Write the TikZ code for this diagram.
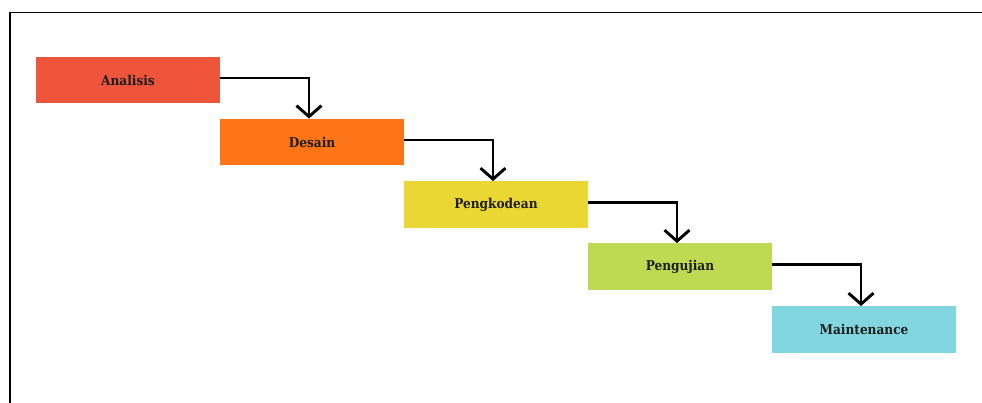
\documentclass[tikz,border=0pt]{standalone}
\usepackage{fontspec}
\setmainfont{DejaVu Serif Condensed}
\usetikzlibrary{arrows.meta}
\definecolor{cA}{HTML}{EE553B}
\definecolor{cD}{HTML}{FD7517}
\definecolor{cP}{HTML}{EBD734}
\definecolor{cU}{HTML}{BED952}
\definecolor{cM}{HTML}{82D6DF}
\definecolor{txt}{HTML}{1E1E1E}
\begin{document}
\begin{tikzpicture}[x=1pt,y=-1pt,
  stage/.style={minimum width=184pt, minimum height=46.5pt, inner sep=0pt,
    font=\fontsize{13.5}{15}\selectfont\bfseries, text=txt},
  flow/.style={line width=2.9pt, -{Straight Barb[length=11pt,width=25pt]}}]
\useasboundingbox (0,0) rectangle (982,403);
\draw[line width=1.4pt] (10,403) -- (10,12.5) -- (982,12.5);
\node[stage, fill=cA] (a) at (128,80) {Analisis};
\node[stage, fill=cD] (d) at (312,142) {Desain};
\node[stage, fill=cP] (p) at (496,204.5) {Pengkodean};
\node[stage, fill=cU] (u) at (680,266.5) {Pengujian};
\node[stage, fill=cM] (m) at (864,329.5) {Maintenance};
\draw[flow] ([yshift=2pt]a.east) -| ([xshift=-3pt]d.north);
\draw[flow] ([yshift=2pt]d.east) -| ([xshift=-3pt]p.north);
\draw[flow] ([yshift=2pt]p.east) -| ([xshift=-3pt]u.north);
\draw[flow] ([yshift=2pt]u.east) -| ([xshift=-3pt]m.north);
\end{tikzpicture}
\end{document}
